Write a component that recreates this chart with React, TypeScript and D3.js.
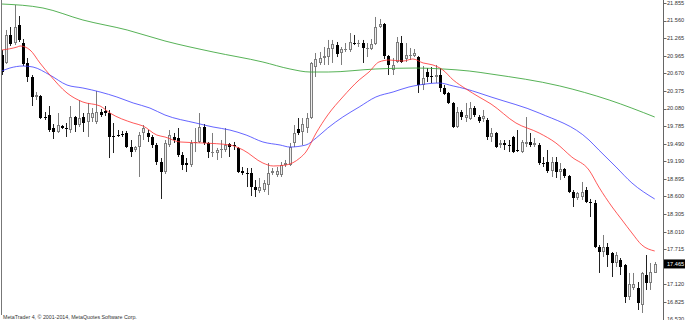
import React from "react";
import * as d3 from "d3";

const W = 685;
const H = 320;

// Candle data (one entry per bar)
const OPEN = [
  20.980, 20.846, 21.317, 21.182, 21.485, 21.182, 20.846, 20.610, 20.274, 20.290,
  19.937, 19.971, 19.752, 19.685, 19.786, 19.752, 19.718, 19.937, 19.802, 19.937,
  19.853, 19.920, 19.853, 20.021, 20.038, 20.004, 19.618, 19.634, 19.651, 19.668,
  19.432, 19.382, 19.432, 19.668, 19.668, 19.601, 19.466, 19.180, 19.012, 19.466,
  19.601, 19.584, 19.298, 19.163, 19.130, 19.500, 19.517, 19.769, 19.500, 19.331,
  19.331, 19.382, 19.382, 19.483, 19.466, 19.416, 19.029, 18.995, 18.995, 18.759,
  18.692, 18.709, 18.793, 18.995, 18.961, 18.961, 19.130, 19.130, 19.500, 19.735,
  19.685, 19.752, 19.920, 20.778, 20.846, 20.930, 20.946, 21.081, 21.148, 21.014,
  21.064, 21.064, 21.182, 21.182, 21.182, 21.098, 21.081, 21.165, 21.451, 21.502,
  20.963, 20.728, 20.862, 21.182, 20.913, 20.980, 20.963, 20.946, 20.475, 20.694,
  20.627, 20.610, 20.644, 20.425, 20.341, 20.173, 19.769, 20.021, 19.920, 19.903,
  20.088, 19.937, 19.903, 19.887, 19.601, 19.668, 19.466, 19.500, 19.466, 19.601,
  19.382, 19.348, 19.483, 19.517, 19.466, 19.466, 19.163, 19.180, 19.029, 19.180,
  19.012, 19.062, 18.944, 18.675, 18.574, 18.591, 18.709, 18.507, 18.490, 17.750,
  17.666, 17.750, 17.649, 17.481, 17.531, 17.447, 16.909, 17.060, 17.060, 16.774,
  17.279, 17.144, 17.313,
];
const HIGH = [
  21.064, 21.401, 21.451, 21.821, 21.636, 21.249, 20.930, 20.644, 20.358, 20.307,
  20.021, 20.122, 19.819, 20.004, 19.802, 19.836, 20.122, 19.954, 20.223, 20.004,
  20.173, 20.088, 20.375, 20.072, 20.122, 20.055, 19.836, 19.718, 19.702, 19.702,
  19.550, 19.449, 19.685, 19.802, 19.718, 19.634, 19.500, 19.247, 19.550, 19.718,
  19.668, 19.752, 19.348, 19.247, 19.550, 19.752, 20.004, 19.819, 19.517, 19.668,
  19.416, 19.550, 19.752, 19.500, 19.517, 19.432, 19.096, 19.079, 19.079, 18.877,
  18.911, 18.877, 19.163, 19.079, 19.096, 19.180, 19.214, 19.500, 19.802, 19.920,
  19.920, 20.004, 20.862, 21.014, 21.031, 21.115, 21.233, 21.233, 21.199, 21.115,
  21.182, 21.350, 21.317, 21.233, 21.233, 21.182, 21.249, 21.620, 21.586, 21.519,
  20.980, 20.930, 21.283, 21.300, 21.182, 21.098, 21.081, 20.963, 20.795, 20.761,
  20.778, 20.812, 20.761, 20.475, 20.358, 20.189, 20.105, 20.055, 20.173, 20.189,
  20.122, 19.971, 20.055, 19.920, 19.752, 19.685, 19.550, 19.550, 19.550, 19.618,
  19.718, 19.550, 19.937, 19.668, 19.584, 19.500, 19.264, 19.382, 19.264, 19.264,
  19.163, 19.079, 18.961, 18.709, 18.675, 18.844, 18.759, 18.558, 18.541, 17.784,
  17.952, 17.817, 17.666, 17.666, 17.565, 17.464, 17.313, 17.313, 17.161, 17.330,
  17.615, 17.481, 17.498,
];
const LOW = [
  20.644, 20.829, 21.132, 21.148, 21.199, 20.795, 20.526, 20.122, 20.223, 19.903,
  19.887, 19.685, 19.567, 19.668, 19.735, 19.601, 19.668, 19.685, 19.769, 19.685,
  19.601, 19.853, 19.819, 19.937, 19.954, 19.247, 19.331, 19.601, 19.601, 19.416,
  19.264, 19.348, 18.928, 19.550, 19.517, 19.416, 19.130, 18.558, 18.978, 19.432,
  19.500, 19.264, 19.045, 19.012, 19.096, 19.348, 19.500, 19.466, 19.247, 19.264,
  19.214, 19.247, 19.348, 19.264, 19.382, 18.995, 18.961, 18.759, 18.608, 18.591,
  18.658, 18.675, 18.625, 18.961, 18.928, 18.928, 19.096, 19.113, 19.432, 19.634,
  19.466, 19.668, 19.903, 20.610, 20.812, 20.812, 20.812, 20.846, 20.946, 20.812,
  21.031, 21.031, 21.148, 21.115, 20.846, 20.946, 21.064, 21.148, 21.434, 20.913,
  20.644, 20.644, 20.846, 20.846, 20.862, 20.896, 20.946, 20.341, 20.391, 20.526,
  20.509, 20.509, 20.358, 20.307, 20.156, 19.752, 19.752, 19.887, 19.853, 19.887,
  19.937, 19.836, 19.853, 19.550, 19.517, 19.416, 19.416, 19.382, 19.348, 19.331,
  19.348, 19.331, 19.432, 19.432, 19.432, 19.130, 19.096, 18.995, 18.928, 18.911,
  18.877, 18.911, 18.658, 18.423, 18.541, 18.541, 18.490, 18.255, 17.733, 17.313,
  17.582, 17.414, 17.245, 17.414, 17.279, 16.808, 16.858, 17.027, 16.690, 16.640,
  17.027, 17.027, 17.313,
];
const CLOSE = [
  20.694, 21.317, 21.165, 21.451, 21.233, 20.829, 20.610, 20.274, 20.307, 19.920,
  19.920, 19.718, 19.685, 19.802, 19.752, 19.735, 19.937, 19.802, 19.920, 19.836,
  20.004, 20.004, 20.021, 19.971, 20.004, 19.601, 19.601, 19.630, 19.634, 19.432,
  19.348, 19.432, 19.634, 19.752, 19.601, 19.466, 19.180, 19.012, 19.500, 19.634,
  19.550, 19.298, 19.130, 19.130, 19.500, 19.517, 19.769, 19.500, 19.348, 19.348,
  19.382, 19.399, 19.466, 19.432, 19.449, 19.012, 18.995, 18.978, 18.759, 18.709,
  18.759, 18.827, 18.995, 19.029, 19.029, 19.130, 19.163, 19.432, 19.668, 19.668,
  19.819, 19.920, 20.846, 20.913, 20.930, 20.963, 21.098, 21.165, 20.997, 21.081,
  21.081, 21.199, 21.175, 21.190, 21.098, 21.105, 21.165, 21.451, 21.502, 20.963,
  20.812, 20.812, 21.199, 20.862, 20.980, 20.985, 21.014, 20.475, 20.593, 20.610,
  20.622, 20.644, 20.425, 20.324, 20.173, 19.769, 20.021, 19.937, 19.971, 20.088,
  19.971, 19.870, 19.954, 19.601, 19.668, 19.432, 19.500, 19.466, 19.460, 19.348,
  19.376, 19.517, 19.517, 19.466, 19.500, 19.163, 19.158, 19.029, 19.180, 19.012,
  19.062, 18.944, 18.675, 18.574, 18.658, 18.675, 18.507, 18.490, 17.750, 17.666,
  17.750, 17.615, 17.481, 17.615, 17.414, 16.909, 17.128, 17.128, 16.808, 17.313,
  17.144, 17.330, 17.465,
];

// Moving averages: [bar index, value]
const MA_FAST: [number, number][] = [
  [0, 21.064], [3.6, 21.115], [4.3, 21.132], [6.6, 21.064], [8.9, 20.846],
  [11.2, 20.644], [15.2, 20.341], [18.9, 20.189], [22.9, 20.122], [25.2, 20.004],
  [30.6, 19.836], [32.9, 19.786], [36.1, 19.634], [38, 19.601], [41.5, 19.517],
  [46.9, 19.5], [53.1, 19.466], [56.2, 19.382], [60.8, 19.163], [63.2, 19.113],
  [66.2, 19.13], [69.4, 19.247], [70.8, 19.348], [73.2, 19.668], [75.9, 19.971],
  [79.4, 20.274], [83.2, 20.56], [85.5, 20.694], [87.8, 20.862], [90.2, 20.896],
  [93.4, 20.879], [95.7, 20.913], [98.1, 20.846], [100.4, 20.812], [102.7, 20.728],
  [105.1, 20.56], [108.1, 20.408], [111.1, 20.274], [113.9, 20.156], [119.7, 19.836],
  [125.1, 19.668], [129, 19.5], [132.7, 19.264], [136.7, 19.045], [139, 18.759],
  [142.1, 18.423], [144.4, 18.204], [146.7, 17.986], [149, 17.784], [152, 17.683],
];
const MA_MID: [number, number][] = [
  [0, 20.711], [1.9, 20.761], [5, 20.795], [7.3, 20.778], [11.2, 20.644],
  [15.2, 20.475], [18.9, 20.425], [22.9, 20.358], [26.8, 20.274], [30.6, 20.173],
  [34.5, 20.088], [38, 19.971], [45.2, 19.836], [49.2, 19.769], [53.1, 19.718],
  [56.9, 19.634], [60.8, 19.517], [64.8, 19.466], [67.1, 19.432], [70.8, 19.466],
  [73.2, 19.584], [75.9, 19.752], [79.4, 19.937], [83.2, 20.105], [87.1, 20.274],
  [91.1, 20.358], [94.8, 20.442], [97.1, 20.475], [101.8, 20.509], [105.1, 20.459],
  [108.1, 20.408], [111.1, 20.341], [113.9, 20.274], [125.1, 20.004], [136.7, 19.55],
  [139, 19.382], [143, 19.096], [146.7, 18.827], [152, 18.558],
];
const MA_SLOW: [number, number][] = [
  [0, 21.838], [9.6, 21.771], [18.9, 21.569], [29.2, 21.401], [38, 21.216],
  [49.2, 21.031], [60.8, 20.862], [67.1, 20.745], [71.8, 20.694], [76, 20.694],
  [87.1, 20.745], [96.4, 20.761], [102.7, 20.745], [108.8, 20.711], [113.9, 20.66],
  [129.9, 20.459], [141.4, 20.223], [152, 19.937],
];

// 17.420 sits under the current-price box in the reference, so it is not drawn
const TICK_LABELS = [
  "21.855", "21.560", "21.265", "20.965", "20.670", "20.375", "20.080", "19.785",
  "19.490", "19.190", "18.895", "18.600", "18.305", "18.010", "17.715",
  "17.120", "16.825", "16.530",
];
const CURRENT_PRICE = "17.465";
const COPYRIGHT = "MetaTrader 4, © 2001-2014, MetaQuotes Software Corp.";

const PRICE_TOP = 21.9055;
const PRICE_BOTTOM = 16.522;

export default function App() {
  const n = OPEN.length;
  const x = d3.scaleLinear().domain([0, n - 1]).range([1.7, 654.7]);
  const y = d3.scaleLinear().domain([PRICE_TOP, PRICE_BOTTOM]).range([0, H]);
  const line = d3
    .line<[number, number]>()
    .x((d) => x(d[0]))
    .y((d) => y(d[1]))
    .curve(d3.curveMonotoneX);

  const axisX = 663.5;
  const font = "'Liberation Sans', Arial, sans-serif";
  const cpY = y(parseFloat(CURRENT_PRICE));

  return (
    <svg
      width={W}
      height={H}
      style={{ position: "absolute", left: 0, top: 0, background: "#fff" }}
    >
      <rect x={0} y={0} width={W} height={H} fill="#fff" />
      {/* candles */}
      {OPEN.map((o, i) => {
        const c = CLOSE[i];
        const cx = Math.round(x(i));
        const bull = c >= o;
        const yt = Math.round(y(Math.max(o, c)));
        const yb = Math.round(y(Math.min(o, c)));
        const h = Math.max(1, yb - yt);
        const wickColor = bull ? "#7d7d7d" : "#222";
        return (
          <g key={i}>
            <line
              x1={cx + 0.5}
              x2={cx + 0.5}
              y1={y(HIGH[i])}
              y2={y(LOW[i])}
              stroke={wickColor}
              strokeWidth={1}
            />
            {bull ? (
              h >= 2 ? (
                <rect
                  x={cx - 0.5}
                  y={yt + 0.5}
                  width={2}
                  height={h - 1}
                  fill="#ededed"
                  stroke="#7d7d7d"
                  strokeWidth={1}
                />
              ) : (
                <rect x={cx - 1} y={yt} width={3} height={1} fill="#7d7d7d" />
              )
            ) : (
              <rect x={cx - 1} y={yt} width={3} height={h} fill="#000" />
            )}
          </g>
        );
      })}
      {/* moving averages */}
      <path d={line(MA_SLOW) || ""} fill="none" stroke="#3aa53a" strokeWidth={1} opacity={0.85} />
      <path d={line(MA_MID) || ""} fill="none" stroke="#3f3fff" strokeWidth={1} opacity={0.8} />
      <path d={line(MA_FAST) || ""} fill="none" stroke="#ff3030" strokeWidth={1} opacity={0.8} />

      {/* frame */}
      <line x1={1.5} x2={1.5} y1={0} y2={315} stroke="#777" strokeWidth={1} />
      <line x1={axisX} x2={axisX} y1={0} y2={H} stroke="#666" strokeWidth={1} />

      {/* price axis */}
      {TICK_LABELS.map((t) => {
        const ty = y(parseFloat(t));
        return (
          <g key={t}>
            <line x1={axisX} x2={axisX + 3} y1={Math.round(ty) + 0.5} y2={Math.round(ty) + 0.5} stroke="#666" />
            <text
              x={667}
              y={ty}
              dy="0.35em"
              fontSize={5.6}
              fontFamily={font}
              fill="#333"
            >
              {t}
            </text>
          </g>
        );
      })}
      <rect x={axisX + 0.5} y={cpY - 4.5} width={W - axisX} height={9} fill="#000" />
      <text
        x={667}
        y={cpY}
        dy="0.35em"
        fontSize={5.6}
        fontFamily={font}
        fill="#fff"
      >
        {CURRENT_PRICE}
      </text>

      <text x={3} y={318.5} fontSize={5.3} fontFamily={font} fill="#333">
        {COPYRIGHT}
      </text>
    </svg>
  );
}
